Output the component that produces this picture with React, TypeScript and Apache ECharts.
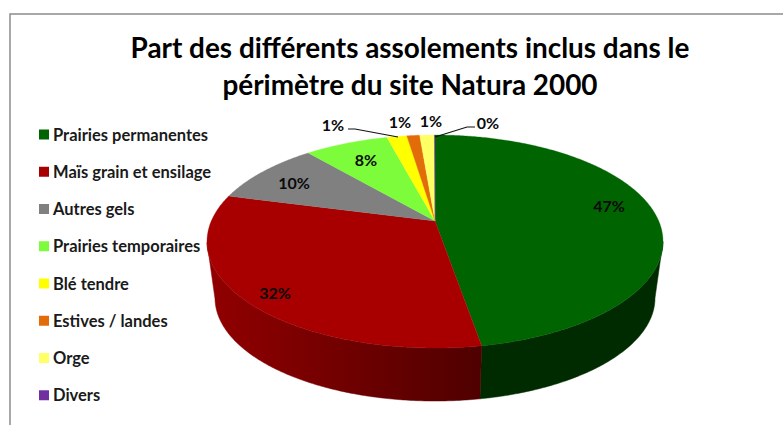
import React, { useEffect, useRef } from "react";
import * as echarts from "echarts";

const titleLines = ["Part des différents assolements inclus dans le", "périmètre du site Natura 2000"];
const categories = ["Prairies permanentes", "Maïs grain et ensilage", "Autres gels", "Prairies temporaires", "Blé tendre", "Estives / landes", "Orge", "Divers"];
const shares = [47.3, 31.8, 9.65, 7.15, 1.7, 1.1, 1.25, 0.05];
const shareLabels = ["47%", "32%", "10%", "8%", "1%", "1%", "1%", "0%"];

const sliceColors = ["#006400", "#a80000", "#808080", "#7cfc3a", "#ffff00", "#e36c0a", "#ffff66", "#7030a0"];
const wallDark = ["#002a00", "#4f0000", "#404040", "#3e7e1d", "#808000", "#713605", "#808033", "#381850"];
const wallLight = ["#002a00", "#920000", "#404040", "#3e7e1d", "#808000", "#713605", "#808033", "#381850"];

// Layout of the perspective disc
const TOP = { cx: 435, cy: 241.5, rx: 228, ry: 106.5 };
const BOTTOM = { cx: 435, cy: 298, rx: 220, ry: 103 };
const APEX_Y = 221;
const A = (APEX_Y - TOP.cy) / TOP.ry;

const labelPlaces: [number, number][] = [[609, 205], [275, 292], [294, 182], [366, 159], [333, 124], [400, 121], [431, 120], [488, 122]];
const leaderLines: [number, number][][] = [
  [[348, 129], [355, 129], [398, 137]],
  [[475, 127], [467, 127], [435, 137]],
];

// true pie angle (clockwise from 12 o'clock) -> unit-ellipse coordinates under perspective
function project(theta: number): [number, number] {
  const u = Math.sin(theta);
  const v = -Math.cos(theta);
  const d = 1 + A * v;
  return [(u * Math.sqrt(1 - A * A)) / d, (v + A) / d];
}
const at = (e: typeof TOP, p: [number, number]): number[] => [e.cx + e.rx * p[0], e.cy + e.ry * p[1]];

const total = shares.reduce((a, b) => a + b, 0);
const starts: number[] = [];
shares.reduce((acc, s, i) => {
  starts[i] = acc;
  return acc + s;
}, 0);

function renderSlice(i: number) {
  return () => {
    const a0 = (starts[i] / total) * Math.PI * 2;
    const a1 = ((starts[i] + shares[i]) / total) * Math.PI * 2;
    const n = Math.max(2, Math.ceil((a1 - a0) / 0.01));
    const rim: [number, number][] = [];
    for (let k = 0; k <= n; k++) rim.push(project(a0 + ((a1 - a0) * k) / n));
    const face = [[TOP.cx, APEX_Y], ...rim.map((p) => at(TOP, p))];
    const front = rim.filter((p) => p[1] >= 0);
    const children: any[] = [];
    if (front.length > 1) {
      const wall = [...front.map((p) => at(TOP, p)), ...front.slice().reverse().map((p) => at(BOTTOM, p))];
      const xs = wall.map((p) => p[0]);
      const minX = Math.min(...xs);
      const maxX = Math.max(...xs);
      const fill = {
        type: "linear", x: minX, y: 0, x2: maxX, y2: 0, global: true,
        colorStops: [
          { offset: 0, color: wallLight[i] },
          { offset: 1, color: wallDark[i] },
        ],
      };
      children.push({ type: "polygon", shape: { points: wall }, style: { fill, stroke: fill, lineWidth: 0.5 } });
    }
    children.push({ type: "polygon", shape: { points: face }, style: { fill: sliceColors[i], stroke: sliceColors[i], lineWidth: 0.3 } });
    return { type: "group", children };
  };
}

const FONT = "Lato";

export default function App() {
  const ref = useRef<HTMLDivElement>(null);
  useEffect(() => {
    document.body.style.margin = "0";
    const chart = echarts.init(ref.current!, undefined, { renderer: "svg" });
    chart.setOption({
      animation: false,
      backgroundColor: "#ffffff",
      title: {
        text: titleLines.join("\n"),
        left: 405,
        top: 23,
        textAlign: "center",
        textStyle: { fontFamily: FONT, fontWeight: "bold", fontSize: 27.9, lineHeight: 37, color: "#000000" },
      },
      legend: {
        orient: "vertical",
        left: 39,
        top: 124.5,
        icon: "rect",
        itemWidth: 10,
        itemHeight: 10,
        itemGap: 17.25,
        padding: 0,
        selectedMode: false,
        data: categories,
        textStyle: { fontFamily: FONT, fontWeight: "bold", fontSize: 16.5, lineHeight: 20, color: "#1a1a1a", padding: [0, 0, 0, -1] },
      },
      series: categories.map((name, i) => ({
        type: "custom",
        name,
        coordinateSystem: "none",
        data: [[shares[i]]],
        itemStyle: { color: sliceColors[i] },
        renderItem: renderSlice(i),
        silent: true,
      })),
      graphic: [
        {
          type: "polyline",
          z: 50,
          shape: { points: [[10, 432], [10, 14], [790, 14]] },
          style: { fill: "none", stroke: "#8c8c8c", lineWidth: 1.5 },
        },
        ...leaderLines.map((points) => ({
          type: "polyline",
          z: 60,
          shape: { points },
          style: { fill: "none", stroke: "#111111", lineWidth: 1.2 },
        })),
        ...shareLabels.map((text, i) => ({
          type: "text",
          z: 70,
          x: labelPlaces[i][0],
          y: labelPlaces[i][1],
          style: { text, fontFamily: FONT, fontWeight: "bold", fontSize: 16, fill: "#0a0a0a", align: "center", verticalAlign: "middle" },
        })),
      ],
    });
    return () => chart.dispose();
  }, []);
  return <div ref={ref} style={{ position: "fixed", left: 0, top: 0, width: 783, height: 425 }} />;
}
